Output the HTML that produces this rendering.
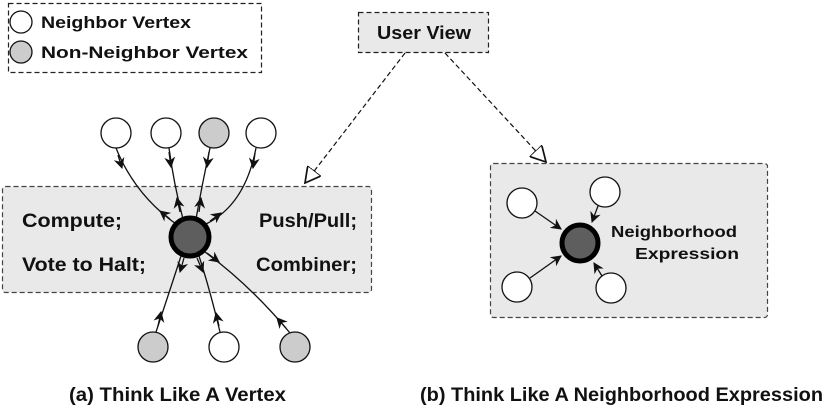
<!DOCTYPE html>
<html><head><meta charset="utf-8"><style>
body{margin:0;background:#fff;}
svg{display:block;}
text{font-family:"Liberation Sans",sans-serif;font-weight:bold;fill:#111;}
</style></head><body>
<svg width="830" height="420" viewBox="0 0 830 420" xmlns="http://www.w3.org/2000/svg">
<defs>
<marker id="a" viewBox="0 0 10 10" refX="9" refY="5" markerWidth="11" markerHeight="11" markerUnits="userSpaceOnUse" orient="auto">
<path d="M0,0 L10,5 L0,10 L3,5 Z" fill="#111"/></marker>
<marker id="t" viewBox="0 0 12 12" refX="11" refY="6" markerWidth="17" markerHeight="17" markerUnits="userSpaceOnUse" orient="auto">
<path d="M0,0 L11,6 L0,12 Z" fill="#fff" stroke="#111" stroke-width="1.2"/></marker>
</defs>
<rect x="8.5" y="3.5" width="253" height="69" fill="#fff" stroke="#222" stroke-dasharray="5,3" stroke-width="1.2"/>
<circle cx="21" cy="22" r="11" fill="#fff" stroke="#111" stroke-width="1.3"/>
<circle cx="21" cy="52" r="11" fill="#ccc" stroke="#111" stroke-width="1.3"/>
<text x="41" y="28" font-size="17" textLength="150" lengthAdjust="spacingAndGlyphs">Neighbor Vertex</text>
<text x="41" y="58" font-size="17" textLength="207" lengthAdjust="spacingAndGlyphs">Non-Neighbor Vertex</text>
<rect x="358.5" y="12.5" width="130" height="40" fill="#e9e9e9" stroke="#222" stroke-dasharray="5,3" stroke-width="1.2"/>
<text x="377" y="39" font-size="18" textLength="94" lengthAdjust="spacingAndGlyphs">User View</text>
<line x1="405" y1="53" x2="305" y2="183" stroke="#111" stroke-width="1.2" stroke-dasharray="5,3" marker-end="url(#t)"/>
<line x1="445" y1="53" x2="546" y2="162" stroke="#111" stroke-width="1.2" stroke-dasharray="5,3" marker-end="url(#t)"/>
<rect x="2.5" y="186.5" width="369" height="106" rx="3" fill="#e9e9e9" stroke="#444" stroke-dasharray="5,3" stroke-width="1.2"/>
<text x="22" y="227" font-size="19" textLength="100" lengthAdjust="spacingAndGlyphs">Compute;</text>
<text x="22" y="271" font-size="19" textLength="124" lengthAdjust="spacingAndGlyphs">Vote to Halt;</text>
<text x="259" y="227" font-size="19" textLength="98" lengthAdjust="spacingAndGlyphs">Push/Pull;</text>
<text x="256" y="271" font-size="19" textLength="101" lengthAdjust="spacingAndGlyphs">Combiner;</text>
<g stroke="#111" stroke-width="1.3" fill="none">
<path d="M116,148 Q135,195 176,224"/>
<path d="M169,148 Q174,185 183,219"/>
<path d="M210,148 Q202,185 196,219"/>
<path d="M256,148 Q245,205 206,224"/>
<path d="M156,332 Q170,290 181,256"/>
<path d="M220,332 Q210,290 199,256"/>
<path d="M290,333 Q250,285 205,252"/>
<path d="M118,155 L122,168" marker-end="url(#a)"/>
<path d="M169,152 L171,167" marker-end="url(#a)"/>
<path d="M209,152 L207,167" marker-end="url(#a)"/>
<path d="M255,153 L253,168" marker-end="url(#a)"/>
<path d="M170,219 L160,211" marker-end="url(#a)"/>
<path d="M180,212 L177,198" marker-end="url(#a)"/>
<path d="M199,212 L201,198" marker-end="url(#a)"/>
<path d="M210,221 L221,213" marker-end="url(#a)"/>
<path d="M184,258 L180,272" marker-end="url(#a)"/>
<path d="M197,258 L203,272" marker-end="url(#a)"/>
<path d="M207,253 L219,262" marker-end="url(#a)"/>
<path d="M158,326 L161,312" marker-end="url(#a)"/>
<path d="M219,326 L216,313" marker-end="url(#a)"/>
<path d="M286,328 L277,318" marker-end="url(#a)"/>
</g>
<g stroke="#111" stroke-width="1.3">
<circle cx="116" cy="133" r="15" fill="#fff"/>
<circle cx="166" cy="133" r="15" fill="#fff"/>
<circle cx="214" cy="133" r="15" fill="#ccc"/>
<circle cx="261" cy="133" r="15" fill="#fff"/>
<circle cx="153" cy="347" r="15" fill="#ccc"/>
<circle cx="224" cy="347" r="15" fill="#fff"/>
<circle cx="295" cy="347" r="15" fill="#ccc"/>
</g>
<circle cx="190" cy="237" r="19" fill="#5e5e5e" stroke="#000" stroke-width="5"/>
<rect x="490.5" y="163.5" width="277" height="154" rx="3" fill="#e9e9e9" stroke="#444" stroke-dasharray="5,3" stroke-width="1.2"/>
<text x="611" y="237" font-size="16" textLength="126" lengthAdjust="spacingAndGlyphs">Neighborhood</text>
<text x="635" y="259" font-size="16" textLength="104" lengthAdjust="spacingAndGlyphs">Expression</text>
<g stroke="#111" stroke-width="1.3" fill="none">
<path d="M535,211 L561,229" marker-end="url(#a)"/>
<path d="M598,206 L592,222" marker-end="url(#a)"/>
<path d="M530,278 L561,256" marker-end="url(#a)"/>
<path d="M602,276 L594,263" marker-end="url(#a)"/>
</g>
<g stroke="#111" stroke-width="1.3" fill="#fff">
<circle cx="522" cy="203" r="15"/>
<circle cx="605" cy="192" r="15"/>
<circle cx="517" cy="287" r="15"/>
<circle cx="611" cy="288" r="15"/>
</g>
<circle cx="580" cy="243" r="18" fill="#5e5e5e" stroke="#000" stroke-width="5"/>
<text x="69" y="401" font-size="19" textLength="217" lengthAdjust="spacingAndGlyphs">(a) Think Like A Vertex</text>
<text x="420" y="401" font-size="19" textLength="403" lengthAdjust="spacingAndGlyphs">(b) Think Like A Neighborhood Expression</text>
</svg>
</body></html>
